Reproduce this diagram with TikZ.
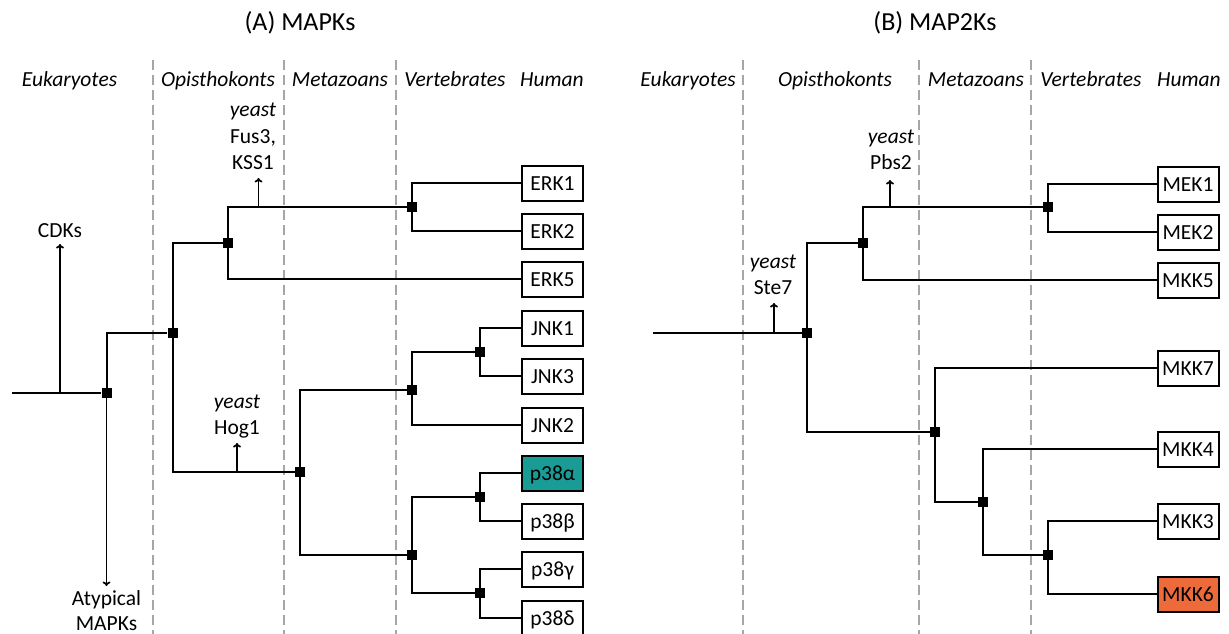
\documentclass[tikz,border=0pt]{standalone}
\usepackage{fontspec}
\setmainfont{Carlito}
\usetikzlibrary{arrows.meta}
\definecolor{pthreeteal}{HTML}{199B96}
\definecolor{mkksixorange}{HTML}{ED6B3B}
\definecolor{sepgray}{HTML}{A6A6A6}
\begin{document}
\begin{tikzpicture}[x=1pt,y=-1pt,
  lbl/.style={font=\fontsize{21.5}{26}\selectfont, inner sep=0pt, anchor=base},
  ylbl/.style={lbl, font=\fontsize{21.5}{26}\selectfont\itshape},
  hdr/.style={font=\fontsize{21.5}{26}\selectfont\itshape, anchor=base, inner sep=0pt},
  ttl/.style={font=\fontsize{26}{30}\selectfont, anchor=base, inner sep=0pt},
  gene/.style={draw, line width=2pt, minimum width=61pt, minimum height=35pt, inner sep=0pt, text height=14pt, text depth=0pt, font=\fontsize{21.5}{26}\selectfont, fill=white},
  junc/.style={fill=black, minimum size=10pt, inner sep=0pt},
  branch/.style={line width=2pt},
  sepline/.style={sepgray, line width=1.3pt, dash pattern=on 10pt off 5pt},
  arr/.style={line width=1.7pt, -{To[length=4.5pt,width=8pt]}},
]
\useasboundingbox (0,0) rectangle (1229,634);

% separators
\foreach \x in {153,284,396,743,919,1031} \draw[sepline] (\x,60) -- (\x,634);

% titles and headers
\node[ttl] (ta) at (300,31) {(A) MAPKs};
\node[ttl] (tb) at (935,31) {(B) MAP2Ks};
\node[hdr] (ha1) at (69.5,86) {Eukaryotes};
\node[hdr] (ha2) at (218,86) {Opisthokonts};
\node[hdr] (ha3) at (340,86) {Metazoans};
\node[hdr] (ha4) at (455,86) {Vertebrates};
\node[hdr] (ha5) at (552,86) {Human};
\node[hdr] (hb1) at (688,86) {Eukaryotes};
\node[hdr] (hb2) at (835,86) {Opisthokonts};
\node[hdr] (hb3) at (976,86) {Metazoans};
\node[hdr] (hb4) at (1091,86) {Vertebrates};
\node[hdr] (hb5) at (1189,86) {Human};

% ---------- panel A ----------
\node[gene] (erk1) at (552.5,183) {ERK1};
\node[gene] (erk2) at (552.5,231) {ERK2};
\node[gene] (erk5) at (552.5,279) {ERK5};
\node[gene] (jnk1) at (552.5,328) {JNK1};
\node[gene] (jnk3) at (552.5,376) {JNK3};
\node[gene] (jnk2) at (552.5,425) {JNK2};
\node[gene, fill=pthreeteal] (p38a) at (552.5,473) {p38α};
\node[gene] (p38b) at (552.5,521) {p38β};
\node[gene] (p38g) at (552.5,569) {p38γ};
\node[gene] (p38d) at (552.5,618) {p38δ};

\node[junc] (a0) at (106.5,393) {};
\node[junc] (a1) at (172.5,333) {};
\node[junc] (a2) at (228,243) {};
\node[junc] (a3) at (412,207) {};
\node[junc] (a4) at (300,472) {};
\node[junc] (a5) at (412,390) {};
\node[junc] (a6) at (480,352) {};
\node[junc] (a7) at (412,555) {};
\node[junc] (a8) at (480,497) {};
\node[junc] (a9) at (480,593) {};

\coordinate (aroot) at (12,393);
\draw[branch] (aroot) -- (a0);
\draw[branch] (a0) |- (a1);
\draw[branch] (a1) |- (a2);
\draw[branch] (a2) |- (a3);
\draw[branch] (a3) |- (erk1);
\draw[branch] (a3) |- (erk2);
\draw[branch] (a2) |- (erk5);
\draw[branch] (a1) |- (a4);
\draw[branch] (a4) |- (a5);
\draw[branch] (a5) |- (a6);
\draw[branch] (a6) |- (jnk1);
\draw[branch] (a6) |- (jnk3);
\draw[branch] (a5) |- (jnk2);
\draw[branch] (a4) |- (a7);
\draw[branch] (a7) |- (a8);
\draw[branch] (a8) |- (p38a);
\draw[branch] (a8) |- (p38b);
\draw[branch] (a7) |- (a9);
\draw[branch] (a9) |- (p38g);
\draw[branch] (a9) |- (p38d);

% side arrows panel A
\coordinate (cdkbase) at (60,393);
\coordinate (cdktip) at (60,244);
\draw[arr] (cdkbase) -- (cdktip);
\node[lbl] (cdks) at (60,237) {CDKs};

\coordinate (atyptip) at (106.5,586);
\draw[arr] (a0) -- (atyptip);
\node[lbl] (aty1) at (106.5,605) {Atypical};
\node[lbl] (aty2) at (106.5,630) {MAPKs};

\coordinate (fusbase) at (258.5,207);
\coordinate (fustip) at (258.5,178);
\draw[arr] (fusbase) -- (fustip);
\node[ylbl] (fusy) at (253,117) {yeast};
\node[lbl] (fus1) at (253,143) {Fus3,};
\node[lbl] (fus2) at (253,169) {KSS1};

\coordinate (hogbase) at (237,472);
\coordinate (hogtip) at (237,443);
\draw[arr] (hogbase) -- (hogtip);
\node[ylbl] (hogy) at (237,408) {yeast};
\node[lbl] (hog1) at (237,434) {Hog1};

% ---------- panel B ----------
\node[gene] (mek1) at (1188,184) {MEK1};
\node[gene] (mek2) at (1188,232) {MEK2};
\node[gene] (mkk5) at (1188,280) {MKK5};
\node[gene] (mkk7) at (1188,368) {MKK7};
\node[gene] (mkk4) at (1188,449) {MKK4};
\node[gene] (mkk3) at (1188,521) {MKK3};
\node[gene, fill=mkksixorange] (mkk6) at (1188,594) {MKK6};

\node[junc] (b0) at (807,333) {};
\node[junc] (b1) at (863,243) {};
\node[junc] (b2) at (1048,207) {};
\node[junc] (b3) at (935,432) {};
\node[junc] (b4) at (983,502) {};
\node[junc] (b5) at (1048,555) {};

\coordinate (broot) at (653,333);
\draw[branch] (broot) -- (b0);
\draw[branch] (b0) |- (b1);
\draw[branch] (b1) |- (b2);
\draw[branch] (b2) |- (mek1);
\draw[branch] (b2) |- (mek2);
\draw[branch] (b1) |- (mkk5);
\draw[branch] (b0) |- (b3);
\draw[branch] (b3) |- (mkk7);
\draw[branch] (b3) |- (b4);
\draw[branch] (b4) |- (mkk4);
\draw[branch] (b4) |- (b5);
\draw[branch] (b5) |- (mkk3);
\draw[branch] (b5) |- (mkk6);

\coordinate (stebase) at (774,333);
\coordinate (stetip) at (774,303);
\draw[arr] (stebase) -- (stetip);
\node[ylbl] (stey) at (773,268) {yeast};
\node[lbl] (ste7) at (773,294) {Ste7};

\coordinate (pbsbase) at (890,207);
\coordinate (pbstip) at (890,180);
\draw[arr] (pbsbase) -- (pbstip);
\node[ylbl] (pbsy) at (891,143) {yeast};
\node[lbl] (pbs2) at (891,169) {Pbs2};
\end{tikzpicture}
\end{document}
